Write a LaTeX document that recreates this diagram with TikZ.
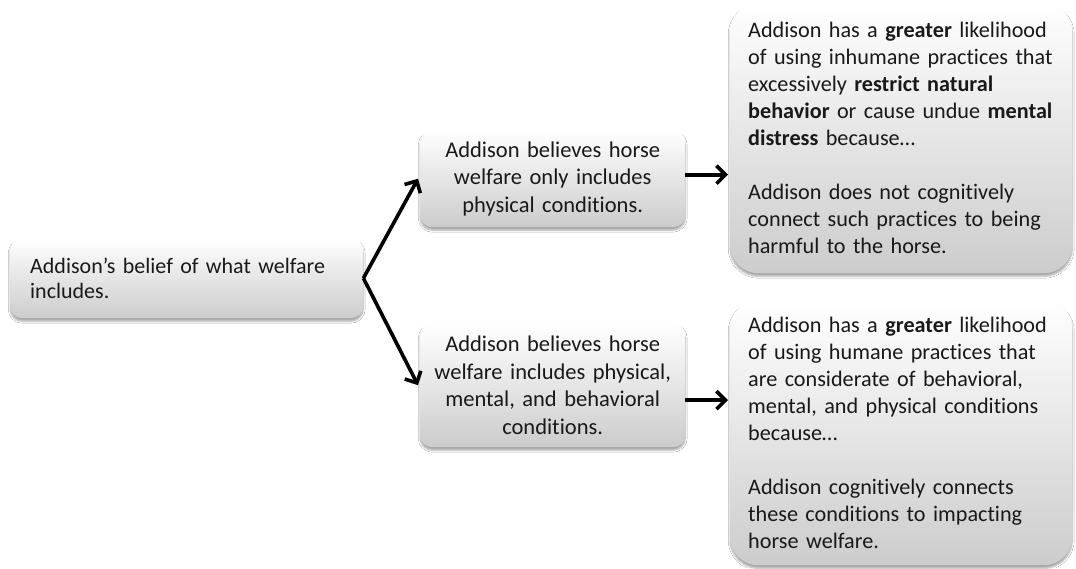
\documentclass[tikz,border=0pt]{standalone}
\usepackage{fontspec}
\setmainfont{Carlito}[Ligatures=NoCommon]
\usetikzlibrary{arrows.meta,shadows.blur}
\definecolor{boxbottom}{gray}{0.80}
\definecolor{boxtext}{gray}{0.10}
\tikzset{
  card/.style={draw=none, rounded corners=#1, top color=white, bottom color=boxbottom,
    blur shadow={shadow xshift=0pt, shadow yshift=-3pt, shadow blur steps=6, shadow opacity=35},
    inner sep=0pt, text=boxtext, font=\fontsize{22.5}{27.5}\selectfont},
  card/.default=12pt,
  flow/.style={line width=3.6pt, -{Straight Barb[length=9pt,width=18pt,line width=3.6pt]}}
}
\begin{document}
\begin{tikzpicture}[x=1pt,y=-1pt]
\useasboundingbox (0,0) rectangle (1076,568);
\fill[white] (0,0) rectangle (1076,568);

% root belief
\node[card, minimum width=353pt, minimum height=80pt, text width=313pt, align=left,
  anchor=north west, font=\fontsize{22}{25}\selectfont] (root) at (10,238)
  {Addison’s belief of what welfare\\ includes.};

% middle beliefs
\node[card, minimum width=265pt, minimum height=97pt, text width=255pt, align=center,
  anchor=north west] (phys) at (420,130)
  {Addison believes horse\\ welfare only includes\\ physical conditions.};
\node[card, minimum width=265pt, minimum height=124pt, text width=255pt, align=center,
  anchor=north west] (all) at (420,323)
  {Addison believes horse\\ welfare includes physical,\\ mental, and behavioral\\ conditions.};

% outcomes
\node[card=28pt, minimum width=342pt, minimum height=270pt, text width=306pt, align=left,
  anchor=north west, font=\fontsize{22.2}{27}\selectfont] (inhum) at (730,3)
  {Addison has a \textbf{greater} likelihood\\ of using inhumane practices that\\ excessively \textbf{restrict natural}\\ \textbf{behavior} or cause undue \textbf{mental}\\ \textbf{distress} because…\\[27pt]
   Addison does not cognitively\\ connect such practices to being\\ harmful to the horse.};
\node[card=28pt, minimum width=342pt, minimum height=265pt, text width=306pt, align=left,
  anchor=north west, font=\fontsize{22.2}{27}\selectfont] (hum) at (730,300)
  {Addison has a \textbf{greater} likelihood\\ of using humane practices that\\ are considerate of behavioral,\\ mental, and physical conditions\\ because…\\[27pt]
   Addison cognitively connects\\ these conditions to impacting\\ horse welfare.};

% connectors
\coordinate (fork) at (root.east);
\draw[flow, line join=miter] (fork) -- ([xshift=-2pt]phys.west);
\draw[flow, line join=miter] (fork) -- ([xshift=-2pt]all.west);
\draw[flow] ([yshift=4pt]phys.east) -- ([xshift=-2pt,yshift=4pt]phys.east -| inhum.west);
\draw[flow] ([yshift=-15pt]all.east) -- ([xshift=-2pt,yshift=-15pt]all.east -| hum.west);
\end{tikzpicture}
\end{document}
